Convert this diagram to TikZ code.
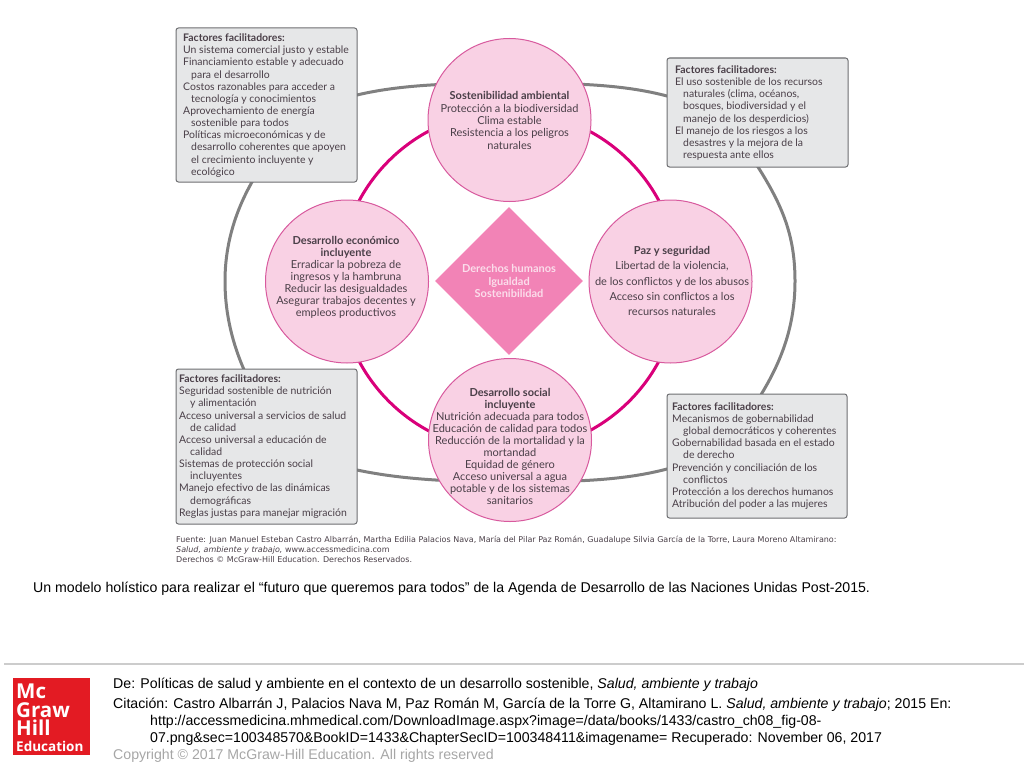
\documentclass[tikz,border=0pt]{standalone}
\usepackage{fontspec}
\setmainfont{Liberation Sans}
\newfontfamily\figfont{Lato}
\newfontfamily\srcfont{DejaVu Sans}
\newfontfamily\logofont{Open Sans}
\usetikzlibrary{shapes.geometric}
\definecolor{ringgray}{HTML}{808080}
\definecolor{ringpink}{HTML}{D9007A}
\definecolor{circfill}{HTML}{F9D1E4}
\definecolor{circline}{HTML}{D85A9E}
\definecolor{diafill}{HTML}{F283B6}
\definecolor{diatext}{HTML}{FBDDEB}
\definecolor{boxfill}{HTML}{E6E7E8}
\definecolor{boxline}{HTML}{6D6E71}
\definecolor{figtext}{HTML}{4A3F48}
\definecolor{mhred}{HTML}{E31B23}
\newcommand{\indA}{\hspace*{8pt}}
\newcommand{\indB}{\hspace*{11pt}}
\tikzset{
    pinkcircle/.style={circle, draw=circline, fill=circfill, line width=1pt, minimum size=163pt, inner sep=0pt},
    circtext/.style={align=center, text=figtext, inner sep=0pt, font=\figfont\fontsize{11}{12.1}\selectfont},
    factorbox/.style={draw=boxline, fill=boxfill, line width=1pt, rounded corners=2.5pt},
    boxtext/.style={anchor=west, align=left, text=figtext, inner sep=0pt, font=\figfont\fontsize{10.45}{12.15}\selectfont},
    footline/.style={anchor=base west, inner sep=0pt, font=\fontsize{14.15}{17}\selectfont},
    srcline/.style={anchor=base west, inner sep=0pt, text=figtext, font=\srcfont\fontsize{8}{9}\selectfont},
    logotext/.style={anchor=west, align=left, inner sep=0pt, text=white}
}
\begin{document}
\begin{tikzpicture}[x=1pt,y=-1pt]
    \useasboundingbox (0,0) rectangle (1024,768);

    % outer ring
    \draw[ringgray, line width=3pt] (510,83) .. controls (440,83) and (395,86) .. (357,95)
        .. controls (310,108) and (270,150) .. (252,182)
        .. controls (235,212) and (225,245) .. (225,281)
        .. controls (225,315) and (233,345) .. (245,372)
        .. controls (270,420) and (310,460) .. (357,470)
        .. controls (395,478) and (440,482) .. (510,482)
        .. controls (580,482) and (625,480) .. (667,469)
        .. controls (710,458) and (745,425) .. (762,393)
        .. controls (785,355) and (795,320) .. (795,281)
        .. controls (795,235) and (782,205) .. (758,167)
        .. controls (735,130) and (705,106) .. (667,96)
        .. controls (625,85) and (580,83) .. (510,83) -- cycle;

    % inner ring
    \draw[ringpink, line width=3pt] (509,281) circle (170);

    % circles
    \node[pinkcircle] (circTop) at (509.5,120) {};
    \node[pinkcircle] (circLeft) at (347,281.5) {};
    \node[pinkcircle] (circRight) at (670.5,281.5) {};
    \node[pinkcircle] (circBottom) at (510,440) {};

    \node[circtext, font=\figfont\fontsize{11}{12.3}\selectfont] (txtTop) at (509.5,120.5) {\textbf{Sostenibilidad ambiental}\\Protección a la biodiversidad\\Clima estable\\Resistencia a los peligros\\naturales};
    \node[circtext] (txtLeft) at (346,277.5) {\textbf{Desarrollo económico}\\\textbf{incluyente}\\Erradicar la pobreza de\\ingresos y la hambruna\\Reducir las desigualdades\\Asegurar trabajos decentes y\\empleos productivos};
    \node[circtext, font=\figfont\fontsize{11}{15.3}\selectfont] (txtRight) at (672,281) {\textbf{Paz y seguridad}\\Libertad de la violencia,\\de los conflictos y de los abusos\\Acceso sin conflictos a los\\recursos naturales};
    \node[circtext] (txtBottom) at (510,446.5) {\textbf{Desarrollo social}\\\textbf{incluyente}\\Nutrición adecuada para todos\\Educación de calidad para todos\\Reducción de la mortalidad y la\\mortandad\\Equidad de género\\Acceso universal a agua\\potable y de los sistemas\\sanitarios};

    % center
    \node[diamond, aspect=1, fill=diafill, minimum width=148pt, minimum height=148pt, inner sep=0pt, align=center, text=diatext, font=\figfont\bfseries\fontsize{11}{12.2}\selectfont] (rights) at (509,281) {Derechos humanos\\Igualdad\\Sostenibilidad};

    % factor boxes
    \node[factorbox, minimum width=181pt, minimum height=154pt] (boxA) at (266.5,105) {};
    \node[factorbox, minimum width=181pt, minimum height=109pt] (boxB) at (757.5,112.5) {};
    \node[factorbox, minimum width=181pt, minimum height=155pt] (boxC) at (266.5,446.5) {};
    \node[factorbox, minimum width=180pt, minimum height=124pt] (boxD) at (757,456) {};

    \node[boxtext] (txtA) at (183,105.5) {\textbf{Factores facilitadores:}\\Un sistema comercial justo y estable\\Financiamiento estable y adecuado\\\indA para el desarrollo\\Costos razonables para acceder a\\\indA tecnología y conocimientos\\Aprovechamiento de energía\\\indA sostenible para todos\\Políticas microeconómicas y de\\\indA desarrollo coherentes que apoyen\\\indA el crecimiento incluyente y\\\indA ecológico};
    \node[boxtext] (txtB) at (675,113) {\textbf{Factores facilitadores:}\\El uso sostenible de los recursos\\\indA naturales (clima, océanos,\\\indA bosques, biodiversidad y el\\\indA manejo de los desperdicios)\\El manejo de los riesgos a los\\\indA desastres y la mejora de la\\\indA respuesta ante ellos};
    \node[boxtext] (txtC) at (179,446.5) {\textbf{Factores facilitadores:}\\Seguridad sostenible de nutrición\\\indB y alimentación\\Acceso universal a servicios de salud\\\indB de calidad\\Acceso universal a educación de\\\indB calidad\\Sistemas de protección social\\\indB incluyentes\\Manejo efectivo de las dinámicas\\\indB demográficas\\Reglas justas para manejar migración};
    \node[boxtext] (txtD) at (672,456) {\textbf{Factores facilitadores:}\\Mecanismos de gobernabilidad\\\indB global democráticos y coherentes\\Gobernabilidad basada en el estado\\\indB de derecho\\Prevención y conciliación de los\\\indB conflictos\\Protección a los derechos humanos\\Atribución del poder a las mujeres};

    % source
    \node[srcline] (srcA) at (176,542) {Fuente: Juan Manuel Esteban Castro Albarrán, Martha Edilia Palacios Nava, María del Pilar Paz Román, Guadalupe Silvia García de la Torre, Laura Moreno Altamirano:};
    \node[srcline] (srcB) at (176,552) {\itshape Salud, ambiente y trabajo, \upshape www.accessmedicina.com};
    \node[srcline] (srcC) at (176,562) {Derechos © McGraw-Hill Education. Derechos Reservados.};

    % caption
    \node[footline] (caption) at (33,592) {Un modelo holístico para realizar el “futuro que queremos para todos” de la Agenda de Desarrollo de las Naciones Unidas Post-2015.};

    % footer
    \draw[black!20, line width=2pt] (4,664) -- (1024,664);
    \fill[mhred] (13,678) rectangle (90,755);
    \node[logotext, font=\logofont\bfseries\fontsize{20.5}{18.5}\selectfont] (logoName) at (16,710) {Mc\\Graw\\Hill};
    \node[logotext, font=\logofont\bfseries\fontsize{13.5}{13.5}\selectfont] (logoEdu) at (16,746) {Education};

    \node[footline] (fromLine) at (113,688) {De: Políticas de salud y ambiente en el contexto de un desarrollo sostenible, \itshape Salud, ambiente y trabajo};
    \node[footline] (citeA) at (113,708) {Citación: Castro Albarrán J, Palacios Nava M, Paz Román M, García de la Torre G, Altamirano L. \itshape Salud, ambiente y trabajo\upshape; 2015 En:};
    \node[footline] (citeB) at (150,725) {http://accessmedicina.mhmedical.com/DownloadImage.aspx?image=/data/books/1433/castro\_ch08\_fig-08-};
    \node[footline] (citeC) at (150,742) {07.png\&sec=100348570\&BookID=1433\&ChapterSecID=100348411\&imagename= Recuperado: November 06, 2017};
    \node[footline, text=black!35] (copyLine) at (113,759) {Copyright © 2017 McGraw-Hill Education. All rights reserved};
\end{tikzpicture}
\end{document}
